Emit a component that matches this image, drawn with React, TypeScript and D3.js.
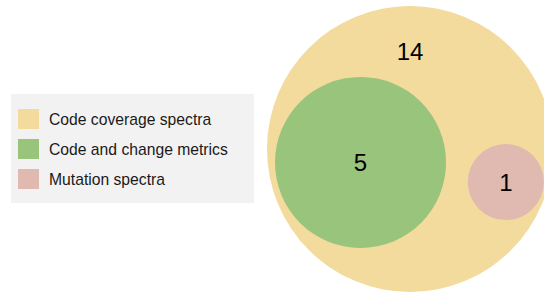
import React from "react";
import * as d3 from "d3";

const sets = ["Code coverage spectra", "Code and change metrics", "Mutation spectra"];
const counts = [14, 5, 1];
const colors = ["#f3da9d", "#99c47c", "#e0bab0"];
// relative layout of circles (unit space of the big circle)
const centersX = [0, -0.346, 0.67];
const centersY = [0, 0.094, 0.231];
const radii = [1, 0.598, 0.266];
const labelOffsetY = [-0.68, 0.094, 0.231];

const W = 544;
const H = 293;

export default function App() {
  const cx = 410, cy = 149, R = 143;
  const x = d3.scaleLinear().domain([-1, 1]).range([cx - R, cx + R]);
  const y = d3.scaleLinear().domain([-1, 1]).range([cy - R, cy + R]);
  const r = d3.scaleLinear().domain([0, 1]).range([0, R]);
  const legendY = d3.scaleBand<number>().domain(d3.range(sets.length)).range([104, 194]);

  return (
    <svg
      width={W}
      height={H}
      style={{ position: "absolute", left: 0, top: 0, fontFamily: "'Liberation Sans', Arial, sans-serif" }}
    >
      <rect x={0} y={0} width={W} height={H} fill="#ffffff" />
      {counts.map((c, i) => (
        <circle key={i} cx={x(centersX[i])} cy={y(centersY[i])} r={r(radii[i])} fill={colors[i]} />
      ))}
      {counts.map((c, i) => (
        <text
          key={"t" + i}
          x={x(centersX[i])}
          y={y(labelOffsetY[i])}
          textAnchor="middle"
          dominantBaseline="central"
          fontSize={24}
          fill="#000"
        >
          {c}
        </text>
      ))}
      <rect x={11} y={94} width={243} height={109} fill="#f2f2f2" />
      {sets.map((s, i) => {
        const yy = legendY(i)! + legendY.bandwidth() / 2;
        return (
          <g key={"l" + i}>
            <rect x={18} y={yy - 10} width={21} height={20} fill={colors[i]} />
            <text x={49} y={yy} dominantBaseline="central" fontSize={15.7} fill="#1a1a1a">
              {s}
            </text>
          </g>
        );
      })}
    </svg>
  );
}
